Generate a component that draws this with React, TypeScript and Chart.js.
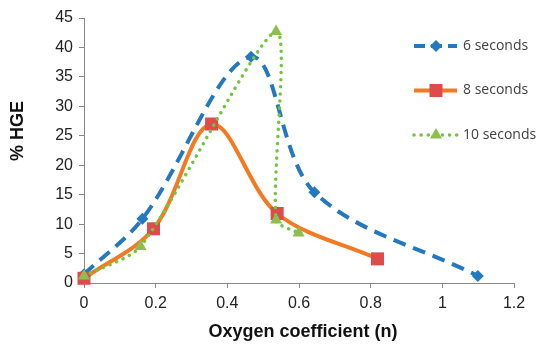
import React, { useEffect, useRef } from "react";
import { Chart, registerables } from "chart.js";

Chart.register(...registerables);

const xTicks = [0, 0.2, 0.4, 0.6, 0.8, 1, 1.2];
const yTicks = [0, 5, 10, 15, 20, 25, 30, 35, 40, 45];

const seriesNames = ["6 seconds", "8 seconds", "10 seconds"];

const x6 = [0, 0.163, 0.466, 0.643, 1.099];
const y6 = [1.5, 10.9, 38.4, 15.4, 1.2];

const x8 = [0, 0.194, 0.356, 0.539, 0.819];
const y8 = [0.8, 9.2, 27.0, 11.8, 4.1];

const x10 = [0, 0.158, 0.536, 0.536, 0.599];
const y10 = [1.2, 6.2, 42.7, 10.7, 8.5];

const xTitle = "Oxygen coefficient (n)";
const yTitle = "% HGE";

const BLUE = "#2478BE";
const ORANGE = "#F47A22";
const RED = "#DD4B4B";
const GREEN = "#72C540";
const GREEN_FILL = "#8CBF4F";

const toPts = (xs: number[], ys: number[]) => xs.map((x, i) => ({ x, y: ys[i] }));

function drawMarker(ctx: CanvasRenderingContext2D, kind: string, x: number, y: number) {
  ctx.save();
  ctx.beginPath();
  if (kind === "diamond") {
    const r = 6;
    ctx.moveTo(x, y - r);
    ctx.lineTo(x + r, y);
    ctx.lineTo(x, y + r);
    ctx.lineTo(x - r, y);
    ctx.closePath();
    ctx.fillStyle = BLUE;
    ctx.fill();
  } else if (kind === "square") {
    const s = 6.5;
    ctx.rect(x - s, y - s, 2 * s, 2 * s);
    ctx.fillStyle = RED;
    ctx.fill();
  } else {
    const r = 7;
    ctx.moveTo(x, y - r);
    ctx.lineTo(x + r * 0.866, y + r * 0.5);
    ctx.lineTo(x - r * 0.866, y + r * 0.5);
    ctx.closePath();
    ctx.fillStyle = GREEN_FILL;
    ctx.fill();
  }
  ctx.restore();
}

const legendPlugin = {
  id: "customLegend",
  afterDraw(chart: any) {
    const ctx = chart.ctx as CanvasRenderingContext2D;
    const items = [
      { name: seriesNames[0], color: BLUE, dash: [11, 6], width: 4, cap: "butt", marker: "diamond", y: 46 },
      { name: seriesNames[1], color: ORANGE, dash: [], width: 4, cap: "butt", marker: "square", y: 90.5 },
      { name: seriesNames[2], color: GREEN, dash: [0.1, 7], width: 3.5, cap: "round", marker: "triangle", y: 135 },
    ];
    items.forEach((it) => {
      ctx.save();
      ctx.strokeStyle = it.color;
      ctx.lineWidth = it.width;
      ctx.setLineDash(it.dash);
      ctx.lineCap = it.cap as CanvasLineCap;
      ctx.beginPath();
      ctx.moveTo(414, it.y);
      ctx.lineTo(457, it.y);
      ctx.stroke();
      ctx.restore();
      drawMarker(ctx, it.marker, 436, it.y);
      ctx.save();
      ctx.fillStyle = "#404040";
      ctx.font = "14px 'Open Sans'";
      ctx.textBaseline = "middle";
      ctx.textAlign = "left";
      ctx.fillText(it.name, 463, it.y);
      ctx.restore();
    });
  },
};

const titlePlugin = {
  id: "axisTitles",
  afterDraw(chart: any) {
    const ctx = chart.ctx as CanvasRenderingContext2D;
    ctx.save();
    ctx.fillStyle = "#111";
    ctx.font = "bold 18px 'Liberation Sans', Arial";
    ctx.textAlign = "center";
    ctx.textBaseline = "middle";
    ctx.fillText(xTitle, 303, 332);
    ctx.translate(18, 131);
    ctx.rotate(-Math.PI / 2);
    ctx.fillText(yTitle, 0, 0);
    ctx.restore();
  },
};

export default function App() {
  const ref = useRef<HTMLCanvasElement>(null);
  useEffect(() => {
    document.body.style.margin = "0";
    const canvas = ref.current!;
    const tickFont = { family: "'Liberation Sans', Arial", size: 16 };
    const chart = new Chart(canvas, {
      type: "scatter",
      data: {
        datasets: [
          {
            label: seriesNames[0],
            data: toPts(x6, y6),
            showLine: true,
            borderColor: BLUE,
            borderWidth: 4,
            borderDash: [13, 8],
            tension: 0.34,
            pointStyle: "rectRot",
            pointRadius: 6,
            pointBackgroundColor: BLUE,
            pointBorderColor: BLUE,
            pointBorderWidth: 0,
            clip: false,
            order: 3,
          },
          {
            label: seriesNames[1],
            data: toPts(x8, y8),
            showLine: true,
            borderColor: ORANGE,
            borderWidth: 4,
            tension: 0.34,
            pointStyle: "rect",
            pointRadius: 9.2,
            pointBackgroundColor: RED,
            pointBorderColor: RED,
            pointBorderWidth: 0,
            clip: false,
            order: 2,
          },
          {
            label: seriesNames[2],
            data: toPts(x10, y10),
            showLine: true,
            borderColor: GREEN,
            borderWidth: 3.5,
            borderDash: [0.1, 7],
            borderCapStyle: "round",
            tension: 0.24,
            pointStyle: "triangle",
            pointRadius: 7,
            pointBackgroundColor: GREEN_FILL,
            pointBorderColor: GREEN_FILL,
            pointBorderWidth: 0,
            clip: false,
            order: 1,
          },
        ] as any,
      },
      options: {
        responsive: false,
        animation: false,
        devicePixelRatio: 1,
        layout: { padding: { left: 0, right: 36, top: 18, bottom: 0 } },
        plugins: { legend: { display: false }, tooltip: { enabled: false } },
        scales: {
          x: {
            type: "linear",
            min: 0,
            max: 1.2,
            afterBuildTicks: (s: any) => {
              s.ticks = xTicks.map((v) => ({ value: v }));
            },
            ticks: {
              font: tickFont,
              color: "#222",
              padding: 6,
              callback: (v: any) => String(Math.round(Number(v) * 10) / 10),
            },
            grid: { drawOnChartArea: false, drawTicks: true, tickLength: 5, color: "#888" },
            border: { color: "#888", width: 1 },
            afterFit: (s: any) => {
              s.height = 61;
            },
          },
          y: {
            type: "linear",
            min: 0,
            max: 45,
            afterBuildTicks: (s: any) => {
              s.ticks = yTicks.map((v) => ({ value: v }));
            },
            ticks: { font: tickFont, color: "#222", padding: 6 },
            grid: { drawOnChartArea: false, drawTicks: true, tickLength: 5, color: "#888" },
            border: { color: "#888", width: 1 },
            afterFit: (s: any) => {
              s.width = 84;
            },
          },
        },
      },
      plugins: [legendPlugin, titlePlugin],
    });
    return () => chart.destroy();
  }, []);
  return <canvas ref={ref} width={550} height={344} style={{ display: "block" }} />;
}
